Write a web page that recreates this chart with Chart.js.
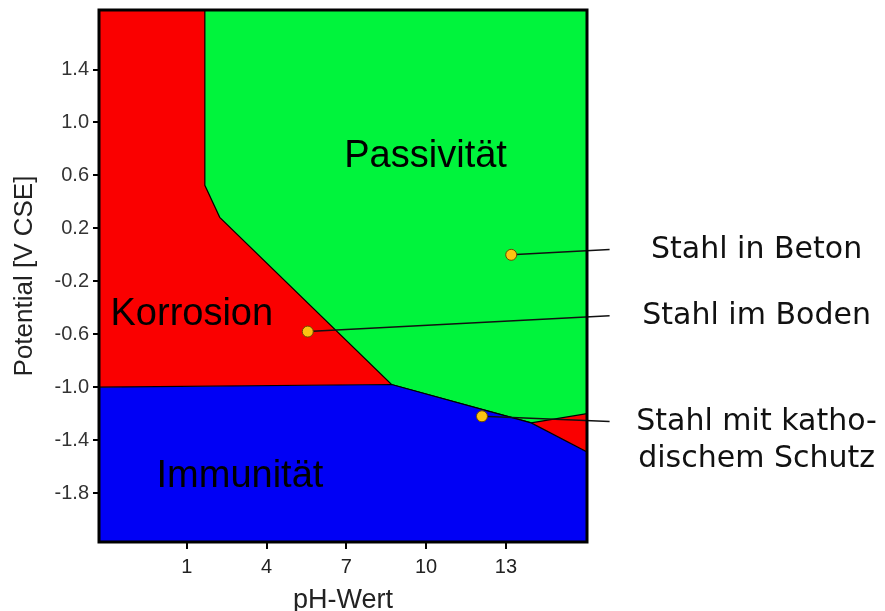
<!DOCTYPE html>
<html lang="de">
<head>
<meta charset="utf-8">
<title>Pourbaix-Diagramm Eisen</title>
<script src="https://cdn.jsdelivr.net/npm/chart.js@4.4.1/dist/chart.umd.min.js"></script>
<style>
  html, body { margin: 0; padding: 0; background: #fff; }
  #wrap { width: 885px; height: 611px; position: relative; }
</style>
</head>
<body>
<div id="wrap"><canvas id="pourbaix"></canvas></div>
<script>
// axis ticks
const phTicks = [1, 4, 7, 10, 13];
const potentialTicks = [-1.8, -1.4, -1.0, -0.6, -0.2, 0.2, 0.6, 1.0, 1.4];

// boundary of the passive (green) region
const passivePH = [1.68, 1.68, 2.24, 8.7, 13.95, 16.05];
const passivePot = [1.85, 0.525, 0.283, -0.98, -1.27, -1.2];

// upper boundary of the immunity (blue) region
const immunePH = [-2.3, 8.7, 13.95, 16.05];
const immunePot = [-1.0, -0.98, -1.27, -1.49];

// steel in different environments
const steelPH = [13.2, 5.55, 12.1];
const steelPot = [0.0, -0.58, -1.22];
const steelLabels = [['Stahl in Beton'], ['Stahl im Boden'], ['Stahl mit katho-', 'dischem Schutz']];
const leaderEndPot = [0.04, -0.46, -1.26];
const leaderEndPH = 16.9;

const regionNames = ['Passivität', 'Korrosion', 'Immunität'];
const regionPH = [9.98, 1.19, 3.0];
const regionPot = [0.66, -0.53, -1.755];

const toPoints = (xs, ys) => xs.map((x, i) => ({ x: x, y: ys[i] }));

Chart.defaults.font.family = '"Liberation Sans", Arial, sans-serif';

const leaderSets = steelPH.map((ph, i) => ({
    data: toPoints([ph, leaderEndPH], [steelPot[i], leaderEndPot[i]]),
    showLine: true,
    borderColor: '#111',
    borderWidth: 1.5,
    pointRadius: 0,
    clip: false,
    order: 1
}));

// black frame around the plot area
const framePlugin = {
    id: 'frame',
    afterDatasetsDraw(chart) {
        const { ctx, chartArea: a } = chart;
        ctx.save();
        ctx.strokeStyle = '#000';
        ctx.lineWidth = 3;
        ctx.strokeRect(a.left, a.top, a.right - a.left, a.bottom - a.top);
        ctx.restore();
    }
};

// region names and the steel labels to the right
const textPlugin = {
    id: 'texts',
    afterDraw(chart) {
        const { ctx, scales: { x, y } } = chart;
        ctx.save();
        ctx.fillStyle = '#000';
        ctx.textAlign = 'center';
        ctx.textBaseline = 'alphabetic';
        ctx.font = '38px "Liberation Sans", Arial, sans-serif';
        regionNames.forEach((name, i) => {
            ctx.fillText(name, x.getPixelForValue(regionPH[i]), y.getPixelForValue(regionPot[i]));
        });

        ctx.fillStyle = '#111';
        ctx.font = '30px "DejaVu Sans", Verdana, sans-serif';
        const cx = x.getPixelForValue(leaderEndPH) + 147;
        steelLabels.forEach((lines, i) => {
            const y0 = y.getPixelForValue(leaderEndPot[i]) + 8;
            lines.forEach((line, j) => ctx.fillText(line, cx, y0 + j * 37));
        });
        ctx.restore();
    }
};

new Chart(document.getElementById('pourbaix'), {
    type: 'scatter',
    data: {
        datasets: [
            {
                data: toPoints(steelPH, steelPot),
                pointRadius: 5.5,
                pointBackgroundColor: '#fcc312',
                pointBorderColor: '#6b4a00',
                pointBorderWidth: 1,
                order: 0
            },
            ...leaderSets,
            {
                data: toPoints(passivePH, passivePot),
                showLine: true,
                fill: 'end',
                backgroundColor: '#00f43c',
                borderColor: '#000',
                borderWidth: 1.2,
                pointRadius: 0,
                order: 2
            },
            {
                data: toPoints(immunePH, immunePot),
                showLine: true,
                fill: 'end',
                backgroundColor: '#fa0000',
                borderColor: 'rgba(0,0,0,0)',
                borderWidth: 0,
                pointRadius: 0,
                order: 3
            },
            {
                data: toPoints(immunePH, immunePot),
                showLine: true,
                fill: 'start',
                backgroundColor: '#0000f5',
                borderColor: '#000',
                borderWidth: 1.2,
                pointRadius: 0,
                order: 1.5
            }
        ]
    },
    options: {
        responsive: true,
        maintainAspectRatio: false,
        animation: false,
        events: [],
        layout: { padding: { left: 0, top: 10, right: 298, bottom: 0 } },
        plugins: {
            legend: { display: false },
            tooltip: { enabled: false }
        },
        scales: {
            x: {
                type: 'linear',
                min: -2.3,
                max: 16.05,
                afterBuildTicks: axis => { axis.ticks = phTicks.map(v => ({ value: v })); },
                afterFit: axis => {
                    axis.height = 69;
                    axis.paddingLeft = 0;
                    axis.paddingRight = 0;
                },
                ticks: {
                    color: '#222',
                    font: { size: 20 },
                    padding: 6,
                    maxRotation: 0
                },
                grid: { drawOnChartArea: false, tickLength: 7, color: '#000', lineWidth: 2 },
                border: { display: false },
                title: {
                    display: true,
                    text: 'pH-Wert',
                    color: '#222',
                    font: { size: 27 },
                    padding: { top: 0, bottom: -6 }
                }
            },
            y: {
                type: 'linear',
                min: -2.17,
                max: 1.85,
                afterBuildTicks: axis => { axis.ticks = potentialTicks.map(v => ({ value: v })); },
                afterFit: axis => {
                    axis.width = 99;
                    axis.paddingTop = 0;
                    axis.paddingBottom = 0;
                },
                ticks: {
                    color: '#333',
                    font: { size: 20 },
                    padding: 4,
                    callback: v => v.toFixed(1)
                },
                grid: { drawOnChartArea: false, tickLength: 6, color: '#000', lineWidth: 2 },
                border: { display: false },
                title: {
                    display: true,
                    text: 'Potential [V CSE]',
                    color: '#222',
                    font: { size: 26 },
                    padding: { top: 9, bottom: 0 }
                }
            }
        }
    },
    plugins: [framePlugin, textPlugin]
});
</script>
</body>
</html>
